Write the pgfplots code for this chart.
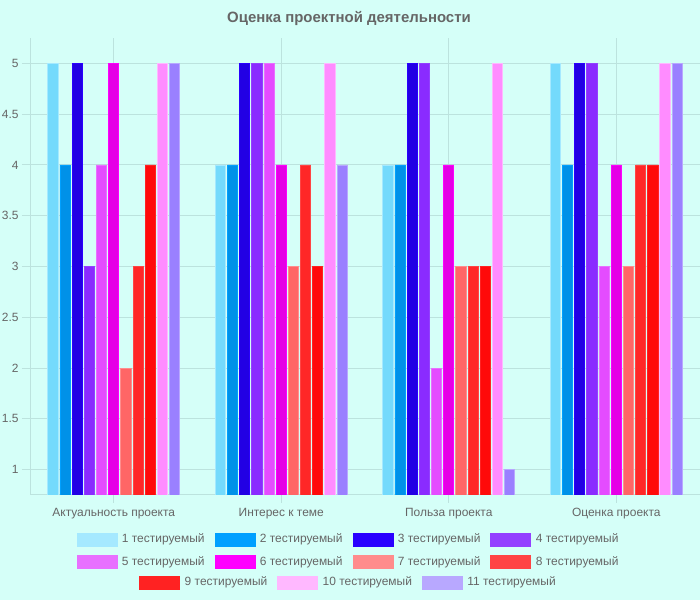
\documentclass[border=0pt]{standalone}
\usepackage{pgfplots}
\pgfplotsset{compat=1.18}
\usepackage{pgfplotstable}
\usepackage{fontspec}
\setmainfont{Liberation Sans}

\definecolor{bg}{HTML}{D5FFF8}
\definecolor{gridc}{HTML}{BCE3DE}
\definecolor{txt}{HTML}{666666}
% bar fills
\definecolor{c1}{HTML}{74DAFC}
\definecolor{c2}{HTML}{0091E8}
\definecolor{c3}{HTML}{2200E4}
\definecolor{c4}{HTML}{8A2BFF}
\definecolor{c5}{HTML}{E44CFF}
\definecolor{c6}{HTML}{E500E6}
\definecolor{c7}{HTML}{FF6666}
\definecolor{c8}{HTML}{FF2727}
\definecolor{c9}{HTML}{FF0A0A}
\definecolor{c10}{HTML}{FF8CFF}
\definecolor{c11}{HTML}{9A80FF}
% lighter tones for borders and legend keys
\definecolor{l1}{HTML}{A5E9FF}
\definecolor{l2}{HTML}{00A0FF}
\definecolor{l3}{HTML}{2A00FF}
\definecolor{l4}{HTML}{9340FF}
\definecolor{l5}{HTML}{E870FF}
\definecolor{l6}{HTML}{FF00FF}
\definecolor{l7}{HTML}{FF8C8C}
\definecolor{l8}{HTML}{FF4444}
\definecolor{l9}{HTML}{FF2222}
\definecolor{l10}{HTML}{FFB8FF}
\definecolor{l11}{HTML}{B8A8FF}

% scores of the eleven respondents per criterion
\pgfplotstableread{
x s1 s2 s3 s4 s5 s6 s7 s8 s9 s10 s11
0 5 4 5 3 4 5 2 3 4 5 5
1 4 4 5 5 5 4 3 4 3 5 4
2 4 4 5 5 2 4 3 3 3 5 1
3 5 4 5 5 3 4 3 4 4 5 5
}\scores

\newcommand{\key}[1]{\addlegendimage{legend image code/.code={\fill[#1] (0bp,-6.5bp) rectangle (40bp,6.5bp);}}}

\pgfplotsset{
  keylegend/.style={
    hide axis, scale only axis, width=1bp, height=1bp,
    xmin=0, xmax=1, ymin=0, ymax=1, anchor=center,
    legend style={at={(0.5,0.5)}, anchor=center, draw=none, fill=none,
      font=\fontsize{12}{14}\selectfont, text=txt,
      nodes={inner xsep=3bp, inner ysep=0bp, text height=9bp, text depth=3bp},
      row sep=9bp,
      /tikz/every odd column/.append style={column sep=2bp},
      /tikz/every even column/.append style={column sep=7bp}},
    legend cell align=left,
  }
}

\begin{document}
\begin{tikzpicture}[x=1bp,y=1bp]
\fill[bg] (0,0) rectangle (700,600);
\useasboundingbox (0,0) rectangle (700,600);
\node[font=\bfseries\fontsize{15}{18}\selectfont, text=txt] at (349,581) {Оценка проектной деятельности};

\begin{axis}[
  at={(30bp,105bp)}, anchor=south west,
  scale only axis, width=670bp, height=457bp,
  xmin=-0.5, xmax=3.5, ymin=0.75, ymax=5.25,
  xtick={0,1,2,3},
  xticklabels={Актуальность проекта, Интерес к теме, Польза проекта, Оценка проекта},
  ytick={1,1.5,...,5},
  /pgf/number format/assume math mode=true,
  ticklabel style={font=\fontsize{12}{14}\selectfont, text=txt},
  x tick label style={inner sep=3bp, text height=9bp, text depth=3bp, yshift=-1.5bp},
  grid=major,
  major grid style={gridc, line width=1bp},
  axis x line*=bottom, axis y line*=left,
  axis line style={-, gridc, line width=1bp},
  tick align=outside, tick pos=left,
  major tick length=8bp,
  tick style={gridc, line width=1bp},
  ybar=1.98bp, bar width=10.2bp,
  every axis plot/.append style={line width=0.8bp},
]
\addplot[fill=c1, draw=l1] table[x=x, y=s1] {\scores};
\addplot[fill=c2, draw=l2] table[x=x, y=s2] {\scores};
\addplot[fill=c3, draw=l3] table[x=x, y=s3] {\scores};
\addplot[fill=c4, draw=l4] table[x=x, y=s4] {\scores};
\addplot[fill=c5, draw=l5] table[x=x, y=s5] {\scores};
\addplot[fill=c6, draw=l6] table[x=x, y=s6] {\scores};
\addplot[fill=c7, draw=l7] table[x=x, y=s7] {\scores};
\addplot[fill=c8, draw=l8] table[x=x, y=s8] {\scores};
\addplot[fill=c9, draw=l9] table[x=x, y=s9] {\scores};
\addplot[fill=c10, draw=l10] table[x=x, y=s10] {\scores};
\addplot[fill=c11, draw=l11] table[x=x, y=s11] {\scores};
\end{axis}

% legend, first two rows
\begin{axis}[keylegend, at={(349bp,49bp)}, legend columns=4]
\key{l1}\addlegendentry{1 тестируемый}
\key{l2}\addlegendentry{2 тестируемый}
\key{l3}\addlegendentry{3 тестируемый}
\key{l4}\addlegendentry{4 тестируемый}
\key{l5}\addlegendentry{5 тестируемый}
\key{l6}\addlegendentry{6 тестируемый}
\key{l7}\addlegendentry{7 тестируемый}
\key{l8}\addlegendentry{8 тестируемый}
\end{axis}
% legend, last row
\begin{axis}[keylegend, at={(349bp,17bp)}, legend columns=3]
\key{l9}\addlegendentry{9 тестируемый}
\key{l10}\addlegendentry{10 тестируемый}
\key{l11}\addlegendentry{11 тестируемый}
\end{axis}
\end{tikzpicture}
\end{document}
